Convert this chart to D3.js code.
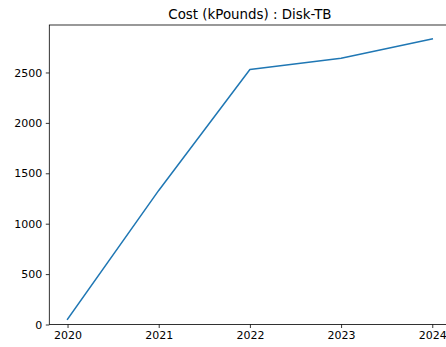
<!DOCTYPE html>
<html>
<head>
<meta charset="utf-8">
<script src="https://cdn.jsdelivr.net/npm/d3@7"></script>
<style>
  html, body { margin: 0; padding: 0; background: #fff; overflow: hidden; }
  svg { display: block; }
  text { font-family: "DejaVu Sans", sans-serif; fill: #000; }
</style>
</head>
<body>
<script>
// Yearly disk cost in thousands of pounds
const years = [2020, 2021, 2022, 2023, 2024];
const costs = [52, 1330, 2530, 2642, 2832];
const yTicks = [0, 500, 1000, 1500, 2000, 2500];
const title = "Cost (kPounds) : Disk-TB";

const W = 446, H = 347;
const plot = { left: 49.3, top: 25, right: 450.5, bottom: 324.5 };

const svg = d3.select("body").append("svg")
  .attr("width", W).attr("height", H);

// 5% padding on x like the default autoscale; y starts at zero
const xPad = (d3.max(years) - d3.min(years)) * 0.05;
const x = d3.scaleLinear()
  .domain([d3.min(years) - xPad, d3.max(years) + xPad])
  .range([plot.left, plot.right]);
const yMax = d3.max(costs) + (d3.max(costs) - d3.min(costs)) * 0.05;
const y = d3.scaleLinear()
  .domain([0, yMax])
  .range([plot.bottom, plot.top]);

// data line
svg.append("path")
  .datum(years.map((yr, i) => [yr, costs[i]]))
  .attr("fill", "none")
  .attr("stroke", "#1f77b4")
  .attr("stroke-width", 1.5)
  .attr("stroke-linejoin", "round")
  .attr("stroke-linecap", "square")
  .attr("d", d3.line().x(d => x(d[0])).y(d => y(d[1])));

// axes
const xAxis = d3.axisBottom(x).tickValues(years).tickFormat(d3.format("d"))
  .tickSizeInner(3.5).tickSizeOuter(0).tickPadding(3.5);
const yAxis = d3.axisLeft(y).tickValues(yTicks).tickFormat(d3.format("d"))
  .tickSizeInner(3.5).tickSizeOuter(0).tickPadding(3.5);

const gx = svg.append("g").attr("transform", `translate(0,${plot.bottom})`).call(xAxis);
const gy = svg.append("g").attr("transform", `translate(${plot.left},0)`).call(yAxis);
[gx, gy].forEach(g => {
  g.select(".domain").remove();
  g.selectAll(".tick line").attr("stroke", "#000").attr("stroke-width", 0.8);
  g.selectAll(".tick text").attr("font-size", 11).attr("font-family", "DejaVu Sans, sans-serif").attr("fill", "#000");
});

// frame
svg.append("rect")
  .attr("x", plot.left).attr("y", plot.top)
  .attr("width", plot.right - plot.left).attr("height", plot.bottom - plot.top)
  .attr("fill", "none").attr("stroke", "#000").attr("stroke-width", 0.8);

// title
svg.append("text")
  .attr("x", (plot.left + plot.right) / 2)
  .attr("y", 18.5)
  .attr("text-anchor", "middle")
  .attr("font-size", 13.4)
  .text(title);
</script>
</body>
</html>
